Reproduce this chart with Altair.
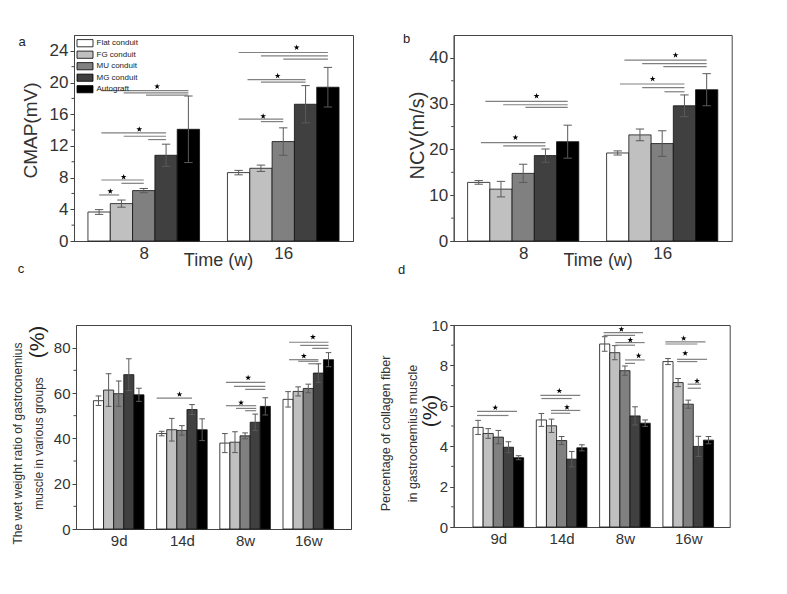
import altair as alt
import pandas as pd

SERIES = ["Flat conduit", "FG conduit", "MU conduit", "MG conduit", "Autograft"]
COLORS = ["#ffffff", "#c0c0c0", "#808080", "#404040", "#000000"]

# Panel a: CMAP (mV)
A_GROUPS = ["8", "16"]
A_MEAN = [[3.66, 4.72, 6.36, 10.82, 14.10], [8.63, 9.18, 12.55, 17.26, 19.41]]
A_ERR = [[0.30, 0.45, 0.27, 1.40, 4.20], [0.28, 0.40, 1.73, 2.35, 2.50]]
A_TICKS = [0, 4, 8, 12, 16, 20, 24]
A_MINOR = [2, 6, 10, 14, 18, 22]
# significance brackets: (group, from bar, to bar, level)
A_LINES = [(0, 0, 0.9, 5.81), (0, 0.1, 2, 7.70), (0, 1, 2, 7.28),
           (0, 0.1, 3, 13.64), (0, 1.1, 3, 13.22), (0, 2.2, 3, 12.80),
           (0, 0.1, 4, 18.99), (0, 1.1, 4, 18.70), (0, 2.1, 4, 18.40),
           (1, 0, 2, 15.37), (1, 1, 2, 15.07),
           (1, 0.4, 3, 20.38), (1, 1, 3, 20.04),
           (1, 0, 4, 23.79), (1, 1, 4, 23.37), (1, 2, 4, 22.95)]
A_STARS = [(0, 0.5, 6.27), (0, 1.1, 8.08), (0, 1.8, 14.1), (0, 2.6, 19.5),
           (1, 1.1, 15.75), (1, 1.75, 20.84), (1, 2.6, 24.42)]

# Panel b: NCV (m/s)
B_GROUPS = ["8", "16"]
B_MEAN = [[12.8, 11.33, 14.77, 18.65, 21.7], [19.23, 23.18, 21.28, 29.54, 33.05]]
B_ERR = [[0.4, 1.7, 2.0, 1.45, 3.6], [0.45, 1.28, 2.8, 2.37, 3.5]]
B_TICKS = [0, 10, 20, 30, 40]
B_MINOR = [5, 15, 25, 35]
B_LINES = [(0, 0.1, 3, 21.5), (0, 1.1, 3, 20.77),
           (0, 0.3, 4, 30.5), (0, 1.1, 4, 29.76), (0, 2.1, 4, 29.18),
           (1, 0.1, 3, 34.3), (1, 1.1, 3, 33.5), (1, 2.1, 3, 32.6),
           (1, 0.3, 4, 39.5), (1, 1.1, 4, 38.76), (1, 2.05, 4, 38.1)]
B_STARS = [(0, 1.65, 22.6), (0, 2.6, 31.66), (1, 1.57, 35.4), (1, 2.6, 40.6)]

# Panel c: wet weight ratio (%)
C_GROUPS = ["9d", "14d", "8w", "16w"]
C_MEAN = [[56.6, 61.3, 59.7, 68.1, 59.2], [42.1, 43.8, 43.5, 52.7, 43.8],
          [37.9, 38.3, 41.1, 47.1, 54.1], [57.2, 60.7, 62.0, 68.8, 74.7]]
C_ERR = [[2.1, 7.2, 5.6, 7.0, 2.9], [1.0, 5.0, 2.1, 2.2, 4.8],
         [4.2, 4.6, 1.3, 3.6, 3.8], [3.4, 2.0, 1.9, 4.1, 3.1]]
C_TICKS = [0, 20, 40, 60, 80]
C_MINOR = [10, 30, 50, 70]
C_LINES = [(1, -0.5, 3, 57.75),
           (2, 0.1, 4, 64.7), (2, 0.9, 4, 62.9), (2, 2.0, 4, 61.6),
           (2, 0.1, 3.1, 54.4), (2, 1.1, 3.1, 53.2), (2, 2.0, 3.1, 52.2),
           (3, 0.1, 4, 82.4), (3, 1.2, 4, 81.0), (3, 2.4, 4, 79.7),
           (3, 0.1, 3, 74.7), (3, 1.0, 3, 74.0), (3, 2.0, 3, 72.9)]
C_STARS = [(1, 1.76, 59.4), (2, 2.3, 66.7), (2, 1.6, 55.7), (3, 2.46, 84.7), (3, 1.56, 76.3)]

# Panel d: collagen fiber (%)
D_GROUPS = ["9d", "14d", "8w", "16w"]
D_MEAN = [[4.93, 4.63, 4.45, 3.95, 3.43], [5.30, 5.01, 4.28, 3.36, 3.92],
          [9.06, 8.63, 7.74, 5.50, 5.14], [8.19, 7.15, 6.08, 3.99, 4.30]]
D_ERR = [[0.35, 0.24, 0.33, 0.27, 0.10], [0.32, 0.33, 0.20, 0.38, 0.15],
         [0.36, 0.35, 0.23, 0.45, 0.16], [0.15, 0.20, 0.20, 0.50, 0.18]]
D_TICKS = [0, 2, 4, 6, 8, 10]
D_MINOR = [1, 3, 5, 7, 9]
D_LINES = [(0, -0.1, 3.84, 5.72), (0, -0.1, 3.0, 5.52),
           (1, -0.1, 3.84, 6.52), (1, 0.0, 3.0, 6.36), (1, 0.95, 3.84, 5.77), (1, 0.95, 2.85, 5.63),
           (2, -0.1, 3.78, 9.62), (2, -0.1, 3.0, 9.49), (2, 1.05, 3.95, 9.13), (2, 1.05, 3.0, 9.0),
           (2, 2.0, 3.95, 8.27), (2, 2.0, 3.0, 8.1),
           (3, -0.26, 3.7, 9.16), (3, -0.26, 2.9, 9.06), (3, 0.9, 3.86, 8.3), (3, 0.9, 2.9, 8.19),
           (3, 1.94, 3.25, 7.07), (3, 1.94, 3.25, 6.87)]
D_STARS = [(0, 1.7, 5.91), (1, 1.77, 6.74), (1, 2.53, 5.93), (2, 1.65, 9.79), (2, 2.53, 9.26),
           (2, 3.35, 8.48), (3, 1.55, 9.34), (3, 1.7, 8.6), (3, 2.87, 7.23)]

FONT = "Liberation Sans"
STAR = ("M0,-1L0.2245,-0.309L0.951,-0.309L0.363,0.118L0.588,0.809L0,0.382"
        "L-0.588,0.809L-0.363,0.118L-0.951,-0.309L-0.2245,-0.309Z")
RECT = "M-2,-0.9L2,-0.9L2,0.9L-2,0.9Z"
BW = 0.16


def bar_left(gi, k):
    return gi + 1 - 0.4 + BW * k


def bar_center(gi, k):
    return bar_left(gi, k) + BW / 2


def text_layer(txt, x, y, size, angle=0, color="#222"):
    return alt.Chart(pd.DataFrame({"t": [txt]})).mark_text(
        font=FONT, fontSize=size, color=color, align="center", baseline="middle", angle=angle
    ).encode(x=alt.value(x), y=alt.value(y), text="t:N")


def panel(groups, means, errs, lines, stars, *, xdom, ydom, yvals, minor, width, height, cap,
          ytitle, ytitle_size, ytitle_x, ytitle_y, ytitle_lh, xtitle, label_size,
          legend, letter, letter_xy, extra=None):
    rows = []
    for gi, g in enumerate(groups):
        for k, s in enumerate(SERIES):
            l = bar_left(gi, k)
            m, e = means[gi][k], errs[gi][k]
            rows.append(dict(group=g, series=s, x0=l, x1=l + BW, xc=l + BW / 2,
                             cl=l + BW / 2 - cap, cr=l + BW / 2 + cap,
                             base=0.0, mean=m, lo=m - e, hi=m + e))
    df = pd.DataFrame(rows)
    sig = pd.DataFrame([dict(a=bar_center(g, i), b=bar_center(g, j), y=v) for g, i, j, v in lines])
    st = pd.DataFrame([dict(x=bar_center(g, i), y=v) for g, i, v in stars])

    n = len(groups)
    label_expr = "[" + ",".join(["''"] + [f"'{g}'" for g in groups]) + "][datum.value]"
    xscale = alt.Scale(domain=xdom, nice=False, zero=False)
    yscale = alt.Scale(domain=ydom, nice=False, zero=False)
    xaxis_kw = dict(values=list(range(1, n + 1)), labelExpr=label_expr, ticks=False, grid=False,
                    labelFontSize=label_size, labelPadding=4, labelFont=FONT)
    if xtitle:
        xaxis_kw.update(title=xtitle, titleFontSize=18, titleX=144, titleY=24,
                        titleBaseline="alphabetic", titleFont=FONT)
    else:
        xaxis_kw.update(title=None)
    xaxis = alt.Axis(**xaxis_kw)
    yaxis = alt.Axis(values=yvals, grid=False, tickSize=4, labelFontSize=label_size,
                     labelPadding=2, labelFont=FONT, title=ytitle, titleFontSize=ytitle_size,
                     titleX=ytitle_x, titleY=ytitle_y, titleLineHeight=ytitle_lh,
                     titleBaseline="bottom", titleFont=FONT)

    def X(f):
        return alt.X(f, scale=xscale, axis=xaxis)

    def Y(f):
        return alt.Y(f, scale=yscale, axis=yaxis)

    base = alt.Chart(df)
    bars = base.mark_rect(stroke="#111", strokeWidth=0.8).encode(
        x=X("x0:Q"), x2="x1:Q", y=Y("base:Q"), y2="mean:Q",
        color=alt.Color("series:N", scale=alt.Scale(domain=SERIES, range=COLORS), legend=legend),
    )
    err = base.mark_rule(color="#5a5a5a", strokeWidth=1).encode(x=X("xc:Q"), y=Y("lo:Q"), y2="hi:Q")
    cap_hi = base.mark_rule(color="#5a5a5a", strokeWidth=1).encode(x=X("cl:Q"), x2="cr:Q", y=Y("hi:Q"))
    cap_lo = base.mark_rule(color="#5a5a5a", strokeWidth=1).encode(x=X("cl:Q"), x2="cr:Q", y=Y("lo:Q"))
    sig_l = alt.Chart(sig).mark_rule(color="#808080", strokeWidth=1.2).encode(
        x=X("a:Q"), x2="b:Q", y=Y("y:Q"))
    star_l = alt.Chart(st).mark_point(shape=STAR, filled=True, color="#000", size=38, opacity=1).encode(
        x=X("x:Q"), y=Y("y:Q"))
    minor_l = alt.Chart(pd.DataFrame({"v": minor})).mark_rule(color="#444", strokeWidth=1).encode(
        x=alt.value(-2.5), x2=alt.value(0), y=Y("v:Q"))
    layers = [bars, err, cap_hi, cap_lo, sig_l, star_l, minor_l,
              text_layer(letter, letter_xy[0], letter_xy[1], 13)]
    if extra:
        layers.append(text_layer(*extra))
    return alt.layer(*layers).properties(width=width, height=height)


legend_a = alt.Legend(orient="none", legendX=6.5, legendY=3.7, title=None, symbolType=RECT,
                      symbolSize=64, symbolStrokeColor="#000", symbolStrokeWidth=0.8,
                      labelFontSize=8, labelFont=FONT, labelOffset=7, rowPadding=0.5, padding=0,
                      labelColor="#222")

a = panel(A_GROUPS, A_MEAN, A_ERR, A_LINES, A_STARS, xdom=[0.5, 2.5], ydom=[0, 26],
          yvals=A_TICKS, minor=A_MINOR, width=279, height=206, cap=0.03,
          ytitle="CMAP(mV)", ytitle_size=19, ytitle_x=-34, ytitle_y=95, ytitle_lh=22,
          xtitle="Time (w)", label_size=17, legend=legend_a, letter="a", letter_xy=(-52, 7))
b = panel(B_GROUPS, B_MEAN, B_ERR, B_LINES, B_STARS, xdom=[0.5, 2.5], ydom=[0, 45],
          yvals=B_TICKS, minor=B_MINOR, width=278, height=206, cap=0.03,
          ytitle="NCV(m/s)", ytitle_size=20, ytitle_x=-26, ytitle_y=100, ytitle_lh=22,
          xtitle="Time (w)", label_size=17, legend=None, letter="b", letter_xy=(-47, 4))
c = panel(C_GROUPS, C_MEAN, C_ERR, C_LINES, C_STARS, xdom=[0.324, 4.676], ydom=[0, 90],
          yvals=C_TICKS, minor=C_MINOR, width=275, height=204, cap=0.045,
          ytitle=["The wet weight ratio of gastrocnemius", "muscle in various groups"],
          ytitle_size=12, ytitle_x=-52, ytitle_y=118, ytitle_lh=21,
          xtitle=None, label_size=15, legend=None, letter="c", letter_xy=(-55, -56),
          extra=("(%)", -38, 17, 21, 270))
d = panel(D_GROUPS, D_MEAN, D_ERR, D_LINES, D_STARS, xdom=[0.295, 4.655], ydom=[0, 10],
          yvals=D_TICKS, minor=D_MINOR, width=276, height=202, cap=0.045,
          ytitle=["Percentage of collagen fiber", "in gastrocnemius muscle"],
          ytitle_size=12.5, ytitle_x=-61, ytitle_y=108, ytitle_lh=27,
          xtitle=None, label_size=15, legend=None, letter="d", letter_xy=(-52, -55),
          extra=("(%)", -23, 86, 21, 270))

chart = (
    alt.concat(a, b, c, d, columns=2, spacing={"row": 84, "column": 100.7},
               center=True, bounds="flush")
    .resolve_scale(color="independent")
    .properties(padding={"left": 2, "top": 24, "right": 0, "bottom": 0}, background="white")
    .configure_view(stroke="#444", strokeWidth=1)
    .configure_axis(domainColor="#444", tickColor="#444", labelColor="#333", titleColor="#333",
                    titleFontWeight="normal", labelFontWeight="normal")
)
chart.save("out.html", embed_options={"renderer": "svg", "actions": False})
